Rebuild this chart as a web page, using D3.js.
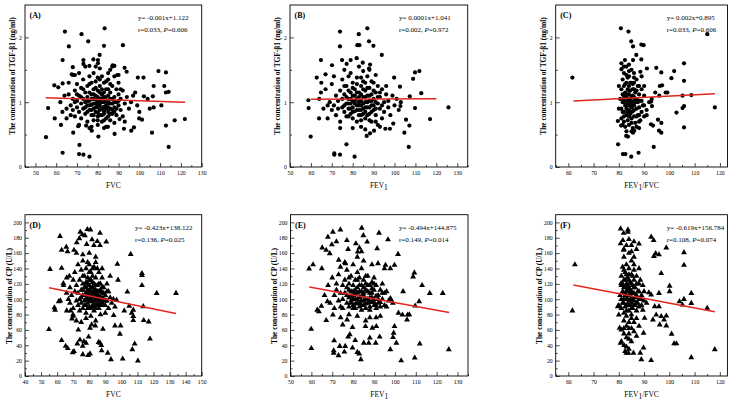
<!DOCTYPE html>
<html><head><meta charset="utf-8">
<script src="https://cdn.jsdelivr.net/npm/d3@7"></script>
<style>body{margin:0;background:#fff}svg{display:block}text{font-family:"Liberation Serif","Times New Roman",serif}</style>
</head><body><svg id="c" width="741" height="402"></svg>
<script>
// ---------- data ----------
const panelLabels=["(A)","(B)","(C)","(D)","(E)","(F)"];
const xTitles=["FVC","FEV1","FEV1/FVC","FVC","FEV1","FEV1/FVC"];
const yTitleTop="The concentration of TGF-β1 (ng/ml)";
const yTitleBottom="The concentration of CP (U/L)";
const eqLine1=["y= -0.001x+1.122","y= 0.0001x+1.041","y= 0.002x+0.895","y= -0.423x+138.122","y= -0.494x+144.875","y= -0.619x+156.784"];
const eqR=["r=0.033, ","r=0.002, ","r=0.033, ","r=0.136, ","r=0.149, ","r=0.108, "];
const eqP=["=0.606","=0.972","=0.606","=0.025","=0.014","=0.074"];
const slopes=[-0.001,0.0001,0.002,-0.423,-0.494,-0.619];
const intercepts=[1.122,1.041,0.895,138.122,144.875,156.784];
const lineRanges=[[55,122],[60,120],[62,118],[55,134],[59,126],[62,118]];
const xDomains=[[45,130],[50,135],[55,123],[40,150],[50,135],[55,123]];
const yDomainTop=[0,2.5], yDomainBottom=[0,210];
const xTicksA=[50,60,70,80,90,100,110,120,130];
const xTicksB=[50,60,70,80,90,100,110,120,130];
const xTicksC=[60,70,80,90,100,110,120];
const xTicksD=[40,50,60,70,80,90,100,110,120,130,140,150];
const yTicksTop=[0,1,2];
const yTicksBottom=[0,20,40,60,80,100,120,140,160,180,200];

const aPts=[[64.2,2.09],[72.2,2.05],[83.3,2.14],[75.4,1.94],[66.1,1.86],[83,1.87],[92.1,1.88],[80.9,1.73],[63.1,1.65],[73.1,1.65],[73.1,1.59],[77.9,1.66],[80.1,1.65],[80.1,1.6],[87.2,1.57],[88,1.56],[68,1.54],[92.9,1.53],[93.9,1.47],[76,1.56],[109.2,1.48],[112.8,1.46],[67.5,1.43],[69,1.42],[89.4,1.42],[99.3,1.38],[102,1.38],[59.1,1.26],[61,1.23],[63.1,1.29],[106.9,1.25],[112,1.25],[112.8,1.15],[114.1,1.16],[102.2,1.09],[106.5,1.09],[56.1,0.91],[59.3,0.75],[62.3,0.65],[55.1,0.46],[71.2,0.34],[63.1,0.22],[71,0.2],[73.1,0.19],[76,0.16],[80.3,0.47],[68.2,0.53],[88.1,0.51],[106.1,0.53],[112.8,0.64],[114.1,0.31],[117,0.72],[121.9,0.74],[110.6,0.95],[106.9,0.92],[105,0.9],[99.9,0.75],[101.3,0.73],[97.4,0.61],[96.1,0.56],[92.6,0.59],[90.5,0.74],[84.9,0.62],[77.1,0.56],[77,0.62],[74.4,0.64],[70.6,0.63],
[66,1.12],[67,0.95],[68,1.05],[68,0.88],[69,1.18],[69,0.78],[70,1.02],[70,0.92],[70,1.28],[71,0.85],[71,1.1],[71,0.65],[72,0.98],[72,1.22],[72,0.75],[73,1.05],[73,0.9],[73,1.35],[74,0.82],[74,1.15],[74,1.0],[75,0.95],[75,1.25],[75,0.7],[75,1.08],[76,0.88],[76,1.4],[76,1.02],[77,0.8],[77,1.12],[77,0.96],[77,1.3],[78,1.05],[78,0.9],[78,1.2],[78,0.72],[78,1.45],[79,0.98],[79,1.1],[79,0.85],[79,1.32],[80,1.0],[80,0.92],[80,1.18],[80,0.78],[80,1.38],[80,0.65],[81,1.05],[81,0.88],[81,1.25],[81,0.95],[82,1.12],[82,0.8],[82,1.0],[82,1.4],[82,0.7],[83,0.93],[83,1.08],[83,1.3],[83,0.86],[84,1.02],[84,0.75],[84,1.2],[84,0.95],[84,0.62],[85,1.1],[85,0.85],[85,1.35],[85,0.98],[86,0.9],[86,1.15],[86,0.72],[86,1.05],[87,1.25],[87,0.82],[87,0.98],[88,1.08],[88,0.92],[88,1.4],[88,0.68],[89,1.0],[89,1.2],[89,0.8],[90,0.95],[90,1.12],[90,1.3],[91,0.88],[91,1.05],[92,0.78],[92,1.18],[93,0.98],[93,0.7],[94,1.08],[95,0.9],[96,1.0],[97,1.1],[65,0.9],[66,1.3],[67,0.8],[68,1.42],[69,1.0],[71,1.45],[74,1.55],[76,0.6],[79,1.55],[81,1.52],[83,0.6],[85,1.45],[86,1.5],[87,1.55],[90,1.42],[62,1.0],[64,1.1],[63,0.85],[65,0.75],[100,0.85],[98,1.15],[104,1.05],[99,0.95],
[74,0.92],[75,1.02],[76,0.95],[76,1.15],[77,1.05],[77,0.88],[78,0.98],[78,1.12],[79,0.92],[79,1.04],[80,0.96],[80,1.08],[80,0.84],[81,1.0],[81,1.15],[81,0.8],[82,0.9],[82,1.06],[82,1.2],[83,1.0],[83,0.82],[83,1.15],[84,0.9],[84,1.08],[85,1.02],[85,0.92],[85,1.2],[86,0.82],[86,0.98],[87,1.05],[87,0.88],[88,1.0],[89,0.9],[76,1.28],[79,1.22],[81,1.35],[84,1.32],[86,1.28],[78,0.8],[80,0.72],[83,0.72],[85,0.78],[88,0.85],[73,1.2],[75,0.85],[72,1.08],[70,1.12],[90,1.02],[91,1.2]];

const bPts=[[73.9,2.09],[87,2.14],[82.9,2.05],[73.9,1.86],[82.2,1.88],[83.2,1.88],[87.8,1.94],[89.9,1.87],[93.9,1.73],[64.8,1.65],[74.9,1.65],[79,1.65],[81.9,1.68],[84.8,1.61],[70.1,1.57],[77.1,1.59],[88.3,1.58],[87.8,1.52],[62.8,1.38],[67,1.43],[99.8,1.38],[109.8,1.46],[111.9,1.48],[108.9,1.36],[64.8,1.15],[58.8,1.03],[58.9,0.91],[59.9,0.47],[63.9,0.75],[71.2,0.21],[71.2,0.19],[73.9,0.19],[77,0.35],[80.9,0.16],[86.7,0.48],[88.3,0.52],[90.2,0.56],[104.7,0.53],[106.8,0.31],[105.5,0.73],[107.1,0.64],[117,0.74],[125.8,0.92],[109.8,0.91],[112.8,1.14],[107.3,1.09],[97.8,0.59],[95.6,0.59],[99.4,0.67],[102.6,1.24],[102.8,0.94],
[64,1.05],[66,0.9],[67,1.2],[68,0.75],[69,1.0],[70,1.28],[70,0.88],[71,0.95],[72,1.1],[72,0.8],[73,1.02],[73,0.9],[74,1.18],[74,0.7],[75,1.05],[75,0.92],[75,1.35],[76,0.85],[76,1.12],[77,0.98],[77,1.25],[77,0.78],[78,1.05],[78,0.9],[78,1.4],[79,1.15],[79,0.82],[79,0.98],[80,1.02],[80,0.75],[80,1.3],[80,0.92],[81,1.1],[81,0.86],[81,1.2],[82,0.95],[82,1.05],[82,0.7],[82,1.38],[83,0.88],[83,1.15],[83,1.0],[84,0.8],[84,1.25],[84,0.95],[84,0.62],[85,1.08],[85,0.9],[85,1.32],[86,0.85],[86,1.0],[86,1.18],[86,0.75],[87,1.1],[87,0.92],[87,1.4],[88,0.82],[88,1.02],[88,1.22],[89,0.95],[89,0.7],[89,1.12],[90,1.05],[90,0.88],[90,1.3],[91,0.8],[91,1.15],[92,0.98],[92,0.65],[92,1.25],[93,0.9],[93,1.08],[94,1.2],[94,0.75],[95,1.0],[95,0.85],[96,1.12],[97,0.92],[97,1.02],[98,0.8],[99,1.1],[100,0.95],[101,1.05],[102,0.88],[103,1.0],[76,1.5],[79,1.45],[83,1.55],[85,1.48],[88,1.5],[91,1.42],[74,0.6],[80,0.6],[86,0.58],[93,0.62],[68,0.95],[71,1.4],[65,1.3],[96,1.25],
[76,0.95],[77,1.08],[78,0.98],[78,1.18],[79,1.05],[79,0.9],[80,1.1],[80,0.85],[81,0.98],[81,1.02],[82,0.88],[82,1.15],[83,0.95],[83,1.08],[83,0.8],[84,1.02],[84,1.12],[84,0.88],[85,0.98],[85,0.82],[86,1.08],[86,0.92],[87,1.0],[87,0.8],[87,1.22],[88,0.92],[88,1.1],[89,1.02],[89,0.85],[90,0.95],[90,1.18],[91,1.0],[91,0.9],[92,1.08],[80,1.22],[82,1.28],[85,1.2],[84,1.38],[86,1.3],[89,1.32],[78,0.78],[84,0.72],[88,0.72],[91,0.7],[76,1.25],[93,1.15],[94,0.95]];

const cPts=[[61.6,1.38],[80.8,2.14],[83.8,2.09],[84.9,1.94],[85.6,1.86],[88.9,1.89],[89.8,1.88],[86.9,1.73],[115,2.05],[81,1.51],[82.4,1.65],[85.6,1.65],[88.9,1.66],[88.5,1.47],[91.1,1.52],[94.8,1.53],[96.8,1.46],[101.9,1.48],[100.8,1.37],[105.8,1.6],[105.8,1.33],[96.2,1.25],[97.1,1.26],[94.4,1.15],[98.5,1.15],[99.2,1.15],[96,1.1],[105.2,1.1],[108.7,1.11],[118,0.92],[105.8,0.94],[105.2,0.91],[102.8,0.84],[92.8,1.01],[93.1,0.94],[95.5,0.73],[95.9,0.56],[93.5,0.64],[92.7,0.66],[96.8,0.68],[96.8,0.53],[105.8,0.61],[93.8,0.31],[79.7,0.35],[81.6,0.2],[82.6,0.2],[84.9,0.16],[87.8,0.22],[82.9,0.48],[83.6,0.47],[85.6,0.53],[86.1,0.56],[79.6,0.71],[80.9,0.64],
[80.5,1.05],[81,0.9],[81,1.2],[81,0.75],[81.5,1.35],[81.5,1.0],[82,0.85],[82,1.1],[82,1.25],[82,0.7],[82,1.45],[82.5,0.95],[82.5,1.15],[82.5,0.62],[83,1.0],[83,1.3],[83,0.8],[83,1.08],[83,0.9],[83,1.55],[83.5,1.2],[83.5,0.72],[83.5,1.02],[84,0.88],[84,1.12],[84,1.4],[84,0.95],[84,0.65],[84,1.25],[84.5,1.05],[84.5,0.82],[84.5,1.18],[85,0.92],[85,1.0],[85,1.3],[85,0.75],[85,1.5],[85.5,1.1],[85.5,0.86],[85.5,0.6],[86,1.02],[86,1.2],[86,0.78],[86,0.95],[86.5,1.15],[86.5,0.68],[87,1.05],[87,0.9],[87,1.35],[87.5,1.0],[87.5,0.8],[88,1.12],[88,0.92],[88,1.25],[88.5,0.72],[89,1.02],[89,0.85],[89,1.4],[90,0.95],[90,1.1],[90,0.78],[91,0.88],[81,1.6],[82,1.55],[84,1.58],[86,1.45],[88,0.6],[89,1.2],[80,1.25],[80,0.9],[83,0.55],[85,0.55],[87,0.62],[81.5,0.65],[82,1.0],[84,1.0],[86,1.08],[83.5,1.38],[85.5,1.28],[87,1.18],[92,1.0],[93,1.05],[91,0.8],[88,0.8],
[82,1.05],[82.5,1.28],[83,1.12],[83,0.95],[83.5,0.85],[84,1.05],[84,0.78],[84,1.18],[84.5,0.95],[84.5,1.3],[85,1.08],[85,0.85],[85.5,0.95],[85.5,1.2],[86,0.88],[86,1.3],[86.5,1.0],[87,0.78],[87.5,1.25],[88,1.02],[88,0.7],[82,0.78],[83,1.42],[81.5,0.85],[81.5,1.12],[89.5,0.95],[90,1.25],[84,1.48],[86,1.38],[85,0.68]];

const dPts=[[54.9,60.8],[55.6,139],[61.8,182],[62.8,164],[62.8,140.5],[58.3,89],[58.7,86],[61,97],[62.8,46.5],[65.3,39],[66.6,36],[65.7,168],[66.5,162],[63.9,120.7],[65.9,108],[67.6,130],[69.3,74.6],[69.9,80],[68.4,85],[70.5,164],[70.5,32],[69.7,30.6],[72.6,42],[74.2,47],[73.2,60],[74.4,187.5],[75.7,184],[72.2,173.7],[73.8,179],[78.8,191],[80.7,190.5],[78.4,171.6],[77.3,183],[81.7,177.6],[86.7,186],[90.6,174.6],[86.7,170],[85,175.4],[82.9,170],[76,28],[79.3,27],[80.5,29],[76.7,45],[78,43],[75.9,39],[79.6,51],[80.5,62.5],[81.5,67],[83.8,65.5],[85.8,44],[86.7,43],[87.5,40],[87.7,33],[88.5,61],[91.5,30],[93.5,21.5],[95.2,79],[96,65.5],[97,99],[97.5,145.7],[97.9,125],[99.1,54.7],[100.8,22.4],[99.5,65.5],[103.7,109.5],[105.8,158.6],[104.9,91],[106.4,82],[107.4,77.6],[107.4,72.4],[106.8,34.5],[108.3,41.8],[110.3,19.8],[112.8,133.6],[112.8,131],[112.8,118],[113.6,90.5],[113.9,72.4],[117,70.7],[117.8,48.3],[122,107.8],[134,107.8],[107.4,86],[101.8,85],
[66,128],[68,115],[68,95],[69,105],[70,125],[70,88],[71,110],[71,135],[72,98],[72,118],[73,92],[73,108],[73,145],[74,125],[74,100],[74,85],[75,112],[75,138],[75,95],[76,105],[76,120],[76,88],[76,150],[77,98],[77,115],[77,130],[78,92],[78,108],[78,122],[78,140],[78,82],[79,100],[79,112],[79,95],[79,128],[80,105],[80,118],[80,90],[80,135],[80,145],[81,98],[81,110],[81,125],[81,88],[82,102],[82,115],[82,92],[82,140],[82,130],[83,108],[83,95],[83,120],[83,85],[84,100],[84,112],[84,128],[84,148],[85,105],[85,92],[85,118],[86,98],[86,110],[86,135],[86,88],[87,102],[87,120],[87,92],[88,108],[88,95],[88,128],[89,100],[89,115],[90,92],[90,105],[91,98],[91,120],[92,88],[92,110],[93,102],[94,95],[95,100],[96,90],[70,78],[72,72],[75,70],[78,75],[81,78],[84,72],[87,80],[90,82],[93,130],[88,140],[84,155],[80,160],[76,158],[72,160],[79,148],[83,142],[67,100],[64,118],[62,98],[66,85],
[75,102],[76,112],[77,105],[77,92],[78,115],[78,100],[79,105],[79,120],[80,98],[80,110],[80,125],[81,103],[81,115],[82,108],[82,97],[82,122],[83,102],[83,112],[84,95],[84,105],[84,118],[85,100],[85,110],[86,104],[86,120],[87,98],[87,112],[88,102],[88,115],[89,92],[89,108],[90,98],[91,110],[79,88],[83,90],[86,93],[76,130],[81,135],[85,140],[84,88]];

const ePts=[[58.9,139.7],[60.8,145],[59.9,61],[60,36],[65.2,167],[67.1,164],[65,140],[67.9,181],[66.3,105],[70.3,187.5],[73.9,190.5],[72,175],[68.8,159.5],[69.8,171],[73.1,151],[77,176.7],[77.6,165],[73.9,142],[76.3,146.5],[63.6,84],[62.8,86],[64.8,91],[67.1,72.4],[70.3,79.7],[67.7,97],[70.9,46],[70.7,33],[70.7,30],[73,26.7],[73.6,38.8],[76.2,38.8],[75.8,31.5],[75,66.8],[77.1,73.3],[77.6,51],[78.4,54],[79.7,63.4],[79.7,36.6],[81,46.5],[82,31],[82.9,29],[83.7,21.5],[84.1,192.7],[84.9,183],[86.7,174.6],[81.3,172.4],[82.2,161.6],[83,166.8],[92.4,186.2],[96.7,177.6],[91.5,166],[91.9,146.5],[95.5,144.4],[97.8,140],[99.8,144.4],[101.5,158.6],[101.7,82],[103.6,79.7],[103.9,110],[106.1,79.7],[105.8,73.3],[106.9,80],[99.8,64.7],[99.4,56],[99.1,50.4],[97.8,34.5],[100.7,43],[103,20],[109.5,23.7],[109.3,134.5],[108.7,129.3],[113,118],[111.6,97],[111.9,41.8],[116.7,107.8],[122.9,107.8],[125.8,34.5],[109.7,91.4],[97.8,100.9],[92.7,51],[90.8,43],[91.1,64.7],[88,49.6],[87.5,43],[89.2,62.5],[85.9,64.7],[85.1,43],
[68,118],[69,95],[70,128],[71,105],[71,88],[72,112],[72,120],[73,98],[73,132],[74,90],[74,108],[75,118],[75,100],[75,88],[76,125],[76,108],[77,95],[77,115],[77,138],[78,102],[78,90],[78,120],[79,110],[79,98],[79,130],[80,92],[80,105],[80,118],[80,145],[81,100],[81,112],[81,88],[81,125],[82,95],[82,108],[82,135],[83,102],[83,118],[83,90],[83,128],[84,98],[84,110],[84,86],[84,140],[85,105],[85,115],[85,92],[85,125],[86,100],[86,120],[86,88],[87,110],[87,95],[87,130],[88,102],[88,118],[88,90],[89,108],[89,96],[89,122],[90,92],[90,112],[90,100],[91,118],[91,88],[92,105],[92,95],[93,112],[93,90],[94,100],[94,120],[95,92],[95,108],[96,110],[96,90],[97,98],[98,100],[99,95],[88,76],[91,76],[93,78],[86,72],[82,78],[78,80],[74,76],[95,140],[89,145],[85,150],[82,155],[76,148],[84,162],
[77,105],[78,112],[79,95],[79,104],[80,100],[80,110],[81,94],[81,106],[82,100],[82,115],[83,95],[83,110],[84,104],[84,118],[85,98],[85,108],[86,94],[86,112],[87,100],[87,118],[88,96],[88,108],[89,102],[89,114],[90,96],[90,120],[91,104],[92,100],[93,96],[94,108],[78,128],[82,125],[86,130],[90,128],[84,92],[88,86],[91,92],[80,88]];

const fPts=[[61.6,85],[62.6,145],[80.7,191.8],[81.9,186],[83.6,190.5],[83.6,187.5],[80.7,172.4],[81.6,176.7],[81.9,164],[92.8,181],[93.8,176.7],[98.8,167],[105.8,160.8],[105.8,144.4],[93.9,156],[94.6,159.5],[95.9,158],[96.8,133.6],[100.1,117.2],[100.1,110],[91.9,108.6],[92.8,105.6],[95.9,107.8],[104,97],[105.2,92.7],[105.8,100],[108.7,107.8],[108.7,94.8],[115,88.4],[94.2,90.5],[95.9,90.5],[93.5,73.3],[94.8,79.7],[96.2,66.8],[96.8,77.6],[98.8,78.4],[98.8,65.5],[97.9,73.3],[100.9,54.7],[101.9,42.2],[102.8,42.2],[108.7,24.1],[118,34.5],[92.8,20.3],[88.9,21.5],[89.8,36.6],[88.5,30],[85.8,30],[80.7,43],[80,79.7],[79.6,90.5],[80.9,120.7],[82.1,40],[82.5,32.3],[83,30],[83.8,30],[80.3,62.5],[89.8,56],[90.2,75.4],[89.5,86],
[80,92],[80.5,105],[81,88],[81,118],[81,130],[81,100],[81.5,110],[81.5,142],[82,95],[82,125],[82,82],[82,108],[82,155],[82.5,115],[82.5,90],[82.5,135],[83,100],[83,120],[83,78],[83,145],[83,105],[83.5,92],[83.5,128],[83.5,112],[84,98],[84,115],[84,85],[84,140],[84,70],[84,160],[84.5,105],[84.5,122],[84.5,92],[85,110],[85,95],[85,132],[85,80],[85,150],[85.5,100],[85.5,118],[85.5,88],[86,108],[86,125],[86,92],[86,145],[86.5,102],[86.5,115],[87,95],[87,130],[87,85],[87.5,110],[88,100],[88,120],[88,90],[88.5,125],[89,105],[89,92],[89.5,118],[90,98],[90,110],[91,95],[81,60],[82,55],[83,50],[84,48],[85,62],[86,58],[83,65],[82,72],[84,62],[85,45],[86,70],[87,52],[88,65],[81,45],[83,38],[84,35],[82,165],[83,170],[85,170],[86,175],[87,165],[88,172],[84,178],[86,155],[85,162],
[81.5,95],[81.5,120],[82,100],[82,115],[82.5,105],[82.5,125],[83,92],[83,110],[83,132],[83.5,100],[83.5,118],[84,105],[84,92],[84,125],[84.5,112],[84.5,98],[85,102],[85,120],[85,88],[85.5,108],[85.5,130],[86,98],[86,115],[86.5,92],[87,105],[87,120],[87.5,95],[88,110],[88,140],[89,100],[82,138],[84,132],[86,138],[83,85],[85,75],[87,75],[82,62],[84,55]];

// ---------- layout ----------
const svg=d3.select("#c");
const frames=[[25,5,201.7,167],[290,5,467.7,167],[555.7,5,727.5,167],[25,214.7,201.7,376],[290.5,214.7,468,376],[555.7,214.7,727.4,376]];
const allPts=[aPts,bPts,cPts,dPts,ePts,fPts];
const xTickSets=[xTicksA,xTicksB,xTicksC,xTicksD,xTicksB,xTicksC];
const yLabelX=[12.5,277,543,9.5,274.5,539.5];
const eqX=[138,399,666.7,135,399,666.7];
const FONT='"Liberation Serif","Times New Roman",serif';

function addSub(sel,str){
  const m=str.match(/^FEV1(.*)$/);
  if(!m){sel.text(str);return;}
  sel.append("tspan").text("FEV");
  sel.append("tspan").attr("dy",2.5).text("1");
  if(m[1]) sel.append("tspan").attr("dy",-2.5).text(m[1]);
}

allPts.forEach((pts,i)=>{
  const [x0,y0,x1,y1]=frames[i];
  const top=i<3;
  const x=d3.scaleLinear().domain(xDomains[i]).range([x0,x1]);
  const y=d3.scaleLinear().domain(top?yDomainTop:yDomainBottom).range([y1,y0]);
  const g=svg.append("g");

  const xd=xDomains[i];
  const xMinor=d3.range(Math.ceil(xd[0]/5)*5,xd[1]+0.01,5).filter(v=>v%10!==0);
  const yMinor=top?[0.5,1.5]:d3.range(10,210,20);
  g.append("g").attr("transform",`translate(0,${y1})`)
    .call(d3.axisBottom(x).tickValues(xMinor).tickSize(-2).tickFormat(""))
    .call(s=>s.select(".domain").remove());
  g.append("g").attr("transform",`translate(${x0},0)`)
    .call(d3.axisLeft(y).tickValues(yMinor).tickSize(-2).tickFormat(""))
    .call(s=>s.select(".domain").remove());

  const xa=g.append("g").attr("transform",`translate(0,${y1})`)
    .call(d3.axisBottom(x).tickValues(xTickSets[i]).tickSize(-4).tickPadding(3.5).tickFormat(d3.format("d")));
  const ya=g.append("g").attr("transform",`translate(${x0},0)`)
    .call(d3.axisLeft(y).tickValues(top?yTicksTop:yTicksBottom).tickSize(-4).tickPadding(3).tickFormat(d3.format("d")));
  [xa,ya].forEach(a=>{a.select(".domain").remove();a.attr("font-family",FONT).attr("font-size",5.8);});
  g.selectAll(".tick line").attr("stroke","#000").attr("stroke-width",0.7);

  g.append("rect").attr("x",x0).attr("y",y0).attr("width",x1-x0).attr("height",y1-y0)
    .attr("fill","none").attr("stroke","#000").attr("stroke-width",0.9);

  if(top){
    g.append("g").selectAll("circle").data(pts).join("circle")
      .attr("cx",d=>x(d[0])).attr("cy",d=>y(d[1])).attr("r",2.1).attr("fill","#000");
  } else {
    const sym=d3.symbol(d3.symbolTriangle).size(15);
    g.append("g").selectAll("path").data(pts).join("path")
      .attr("d",sym).attr("transform",d=>`translate(${x(d[0])},${y(d[1])})`).attr("fill","#000");
  }

  const lr=lineRanges[i];
  g.append("line").attr("x1",x(lr[0])).attr("x2",x(lr[1]))
    .attr("y1",y(slopes[i]*lr[0]+intercepts[i])).attr("y2",y(slopes[i]*lr[1]+intercepts[i]))
    .attr("stroke","#e3261f").attr("stroke-width",1.5);

  g.append("text").attr("x",x0+4.5).attr("y",y0+13).attr("font-size",8).attr("font-weight","bold").text(panelLabels[i]);

  g.append("text").attr("x",eqX[i]).attr("y",y0+14.8).attr("font-size",7).text(eqLine1[i]);
  const t2=g.append("text").attr("x",eqX[i]).attr("y",y0+26.8).attr("font-size",7);
  t2.append("tspan").text(eqR[i]);
  t2.append("tspan").attr("font-style","italic").text("P");
  t2.append("tspan").text(eqP[i]);

  const xt=g.append("text").attr("x",(x0+x1)/2).attr("y",y1+20.5).attr("text-anchor","middle").attr("font-size",7.5);
  addSub(xt,xTitles[i]);

  const cy=top?76:296;
  g.append("text").attr("transform",`translate(${yLabelX[i]+2.5},${cy}) rotate(-90)`)
    .attr("text-anchor","middle").attr("font-size",7.4).attr("font-weight","bold")
    .text(top?yTitleTop:yTitleBottom);
});
</script></body></html>
